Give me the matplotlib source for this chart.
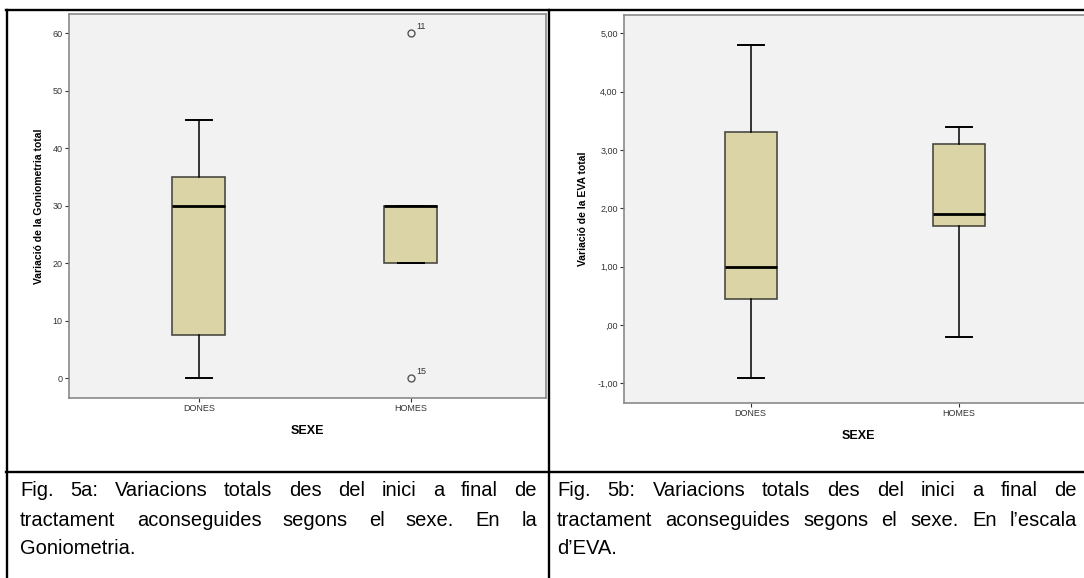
import numpy as np
import matplotlib
matplotlib.use('Agg')
import matplotlib.pyplot as plt
from matplotlib.lines import Line2D

plt.rcParams['font.family'] = ['Liberation Sans', 'DejaVu Sans']

W, H = 1084, 578

# ---------------- data ----------------
categories = ["DONES", "HOMES"]

# Goniometria: whislo, q1, med, q3, whishi
goni_whislo = [0, 20]
goni_q1 = [7.5, 20]
goni_med = [30, 30]
goni_q3 = [35, 30]
goni_whishi = [45, 30]
goni_fliers = [[], [60, 0]]
goni_flier_ids = [[], ["11", "15"]]
goni_yticks = [0, 10, 20, 30, 40, 50, 60]

# EVA
eva_whislo = [-0.9, -0.2]
eva_q1 = [0.45, 1.7]
eva_med = [1.0, 1.9]
eva_q3 = [3.3, 3.1]
eva_whishi = [4.8, 3.4]
eva_fliers = [[], []]
eva_yticks = [-1, 0, 1, 2, 3, 4, 5]
eva_yticklabels = ["-1,00", ",00", "1,00", "2,00", "3,00", "4,00", "5,00"]

ylabel_a = "Variació de la Goniometria total"
ylabel_b = "Variació de la EVA total"
xlabel = "SEXE"

caption_a = ["Fig. 5a: Variacions totals des del inici a final de",
             "tractament aconseguides segons el sexe. En la",
             "Goniometria."]
caption_b = ["Fig. 5b: Variacions totals des del inici a final de",
             "tractament aconseguides segons el sexe. En l\u2019escala",
             "d\u2019EVA."]

# ---------------- helpers ----------------
def px(x, y):
    return x / W, 1 - y / H

def make_stats(lo, q1, med, q3, hi, fl):
    out = []
    for i in range(len(lo)):
        out.append(dict(whislo=lo[i], q1=q1[i], med=med[i], q3=q3[i], whishi=hi[i], fliers=fl[i]))
    return out

def draw_box(ax, stats):
    ax.bxp(stats, positions=[1, 2], widths=0.25, capwidths=0.125, patch_artist=True,
           boxprops=dict(facecolor="#dad4a6", edgecolor="#4a4a42", linewidth=1.2),
           medianprops=dict(color="black", linewidth=2.0),
           whiskerprops=dict(color="black", linewidth=1.1),
           capprops=dict(color="black", linewidth=1.4),
           flierprops=dict(marker="o", markerfacecolor="none", markeredgecolor="#555555",
                           markersize=5, markeredgewidth=1.0))

def style_axes(ax):
    ax.set_facecolor("#f2f2f2")
    for s in ax.spines.values():
        s.set_color("#8a8a8a")
        s.set_linewidth(1.2)
    ax.tick_params(axis="both", direction="out", length=3, width=0.8, color="#333333",
                   labelsize=6.5, labelcolor="#333333", pad=1.5)
    ax.set_xticks([1, 2])
    ax.set_xticklabels(categories)

def justify(fig, line, x0, x1, y, size, last=False):
    words = line.split(" ")
    r = fig.canvas.get_renderer()
    texts = [fig.text(0, 0, w, fontsize=size, va="baseline", ha="left") for w in words]
    widths = [t.get_window_extent(r).width for t in texts]
    if last or len(words) == 1:
        gap = 0.28 * size * 100 / 72
    else:
        gap = (x1 - x0 - sum(widths)) / (len(words) - 1)
    x = x0
    for t, w in zip(texts, widths):
        t.set_position(px(x, y))
        x += w + gap

# ---------------- figure ----------------
fig = plt.figure(figsize=(W / 100, H / 100), dpi=100)
fig.canvas.draw()

# left panel
ax1 = fig.add_axes([69 / W, 1 - 397.5 / H, (546 - 69) / W, (397.5 - 14) / H])
draw_box(ax1, make_stats(goni_whislo, goni_q1, goni_med, goni_q3, goni_whishi, goni_fliers))
style_axes(ax1)
ax1.set_xlim(0.387, 2.637)
ax1.set_ylim(-3.34, 63.36)
ax1.set_yticks(goni_yticks)
ax1.set_ylabel(ylabel_a, fontsize=7.5, fontweight="bold", labelpad=6)
ax1.set_xlabel(xlabel, fontsize=9, fontweight="bold", labelpad=9)
for i in range(len(categories)):
    for v, lab in zip(goni_fliers[i], goni_flier_ids[i]):
        ax1.annotate(lab, (i + 1, v), xytext=(4, 3), textcoords="offset points",
                     fontsize=6.5, color="#333333")

# right panel (clipped on the right like the original)
ax2 = fig.add_axes([624 / W, 1 - 402.7 / H, (1092 - 624) / W, (402.7 - 14.5) / H])
draw_box(ax2, make_stats(eva_whislo, eva_q1, eva_med, eva_q3, eva_whishi, eva_fliers))
style_axes(ax2)
ax2.set_xlim(0.393, 2.637)
ax2.set_ylim(-1.33, 5.32)
ax2.set_yticks(eva_yticks)
ax2.set_yticklabels(eva_yticklabels)
ax2.set_ylabel(ylabel_b, fontsize=7.5, fontweight="bold", labelpad=7)
ax2.set_xlabel(xlabel, fontsize=9, fontweight="bold", labelpad=9)

# table borders
lw = 1.7
fig.add_artist(Line2D([px(6, 0)[0], 1], [px(0, 10)[1]] * 2, color="black", lw=lw, transform=fig.transFigure))
fig.add_artist(Line2D([px(6, 0)[0], 1], [px(0, 472)[1]] * 2, color="black", lw=lw, transform=fig.transFigure))
fig.add_artist(Line2D([px(6.5, 0)[0]] * 2, [px(0, 10)[1], 0], color="black", lw=lw, transform=fig.transFigure))
fig.add_artist(Line2D([px(548.5, 0)[0]] * 2, [px(0, 10)[1], 0], color="black", lw=lw, transform=fig.transFigure))

# captions (justified)
base = [496.5, 525.5, 554.5]
fs = 14.5
for k, line in enumerate(caption_a):
    justify(fig, line, 20, 537, base[k], fs, last=(k == len(caption_a) - 1))
for k, line in enumerate(caption_b):
    justify(fig, line, 557, 1077, base[k], fs, last=(k == len(caption_b) - 1))

# drop helper texts still sitting at the origin
for t in list(fig.texts):
    if t.get_position() == (0, 0):
        t.remove()

fig.savefig("out.png", dpi=100)
